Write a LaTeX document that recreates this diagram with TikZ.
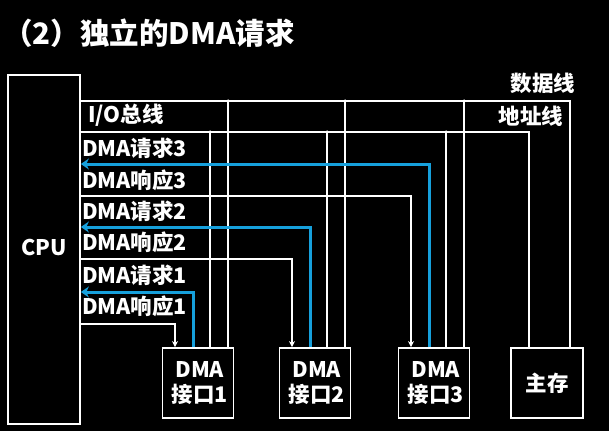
\documentclass[tikz,border=0pt]{standalone}
\usepackage{fontspec}
\setmainfont{Noto Sans CJK SC}
\usetikzlibrary{arrows.meta}
\definecolor{reqblue}{RGB}{22,160,220}

\tikzset{
  box/.style={draw=white, line width=1.8pt, inner sep=0pt, text=white,
    align=center, font=\bfseries\fontsize{21.5}{25}\selectfont},
  lbl/.style={anchor=west, inner sep=0pt, text=white,
    font=\bfseries\fontsize{21.5}{24}\selectfont},
  bus/.style={draw=white, line width=1.6pt},
  req/.style={draw=reqblue, line width=3pt, -{Stealth[length=8pt,width=11pt]}},
  ack/.style={draw=white, line width=1.6pt, -{Stealth[length=6pt,width=6pt]}},
  dot/.style={circle, fill=white, inner sep=0pt, minimum size=3.5pt},
}

\begin{document}
\begin{tikzpicture}[x=1pt, y=-1pt]
  \fill[black] (0,0) rectangle (609,431);
  \useasboundingbox (0,0) rectangle (609,431);

  \node[lbl, font=\bfseries\fontsize{29.5}{32}\selectfont] (title) at (3,33) {（2）独立的DMA请求};

  % CPU and memory
  \node[box, minimum width=72pt, minimum height=349pt] (cpu) at (44,249.5) {\raisebox{4pt}{CPU}};
  \node[box, minimum width=72pt, minimum height=70pt] (mem) at (547,383) {主存};

  % bus levels
  \coordinate (dbus) at (0,101);
  \coordinate (abus) at (0,132);
  \draw[bus] (cpu.east |- dbus) -| ([xshift=23pt]mem.north);
  \draw[bus] (cpu.east |- abus) -| ([xshift=-18pt]mem.north);
  \node[lbl, anchor=center] (dlab) at (543,83) {数据线};
  \node[lbl, anchor=center] (alab) at (531,116) {地址线};
  \node[lbl] (iolab) at (88,115) {I/O总线};

  % DMA interfaces
  \foreach \i/\x/\q/\a in {1/198/292/324, 2/315/227/259, 3/434/164/196} {
    \node[box, minimum width=71pt, minimum height=70pt] (dma\i) at (\x,383) {\,DMA\\\,接口\i};
    \coordinate (q\i) at (0,\q);
    \coordinate (a\i) at (0,\a);
    \draw[bus] ([xshift=12pt]dma\i.north) -- ([xshift=12pt]dma\i.north |- abus) node[dot] {};
    \draw[bus] ([xshift=30pt]dma\i.north) -- ([xshift=30pt]dma\i.north |- dbus) node[dot] {};
    \draw[ack] (cpu.east |- a\i) -| ([xshift=-23pt]dma\i.north);
    \draw[req] ([xshift=-5pt]dma\i.north) |- (cpu.east |- q\i);
  }

  % request / response labels
  \node[lbl] (lq3) at (82,148) {DMA请求3};
  \node[lbl] (la3) at (82,180) {DMA响应3};
  \node[lbl] (lq2) at (82,211) {DMA请求2};
  \node[lbl] (la2) at (82,242) {DMA响应2};
  \node[lbl] (lq1) at (82,275) {DMA请求1};
  \node[lbl] (la1) at (82,306) {DMA响应1};
\end{tikzpicture}
\end{document}
